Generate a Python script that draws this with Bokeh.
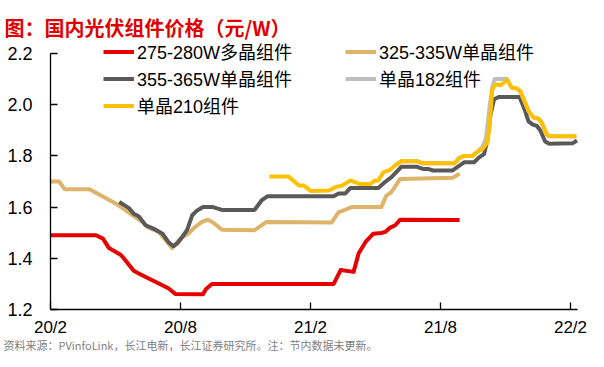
from bokeh.plotting import figure
from bokeh.models import Range1d, FixedTicker, Legend, LegendItem, Label, NumeralTickFormatter
from bokeh.embed import file_html
from bokeh.resources import INLINE

# x values are months since 2020-02
tick_months = [0, 6, 12, 18, 24]
tick_labels = ["20/2", "20/8", "21/2", "21/8", "22/2"]
y_ticks = [1.2, 1.4, 1.6, 1.8, 2.0, 2.2]

poly_x = [0, 2.10, 2.42, 2.70, 3.25, 3.38, 3.84, 4.07, 5.44, 5.76, 7.04, 7.18, 7.45,
          13.07, 13.39, 13.99, 14.22, 14.54, 14.90, 15.27, 15.45, 15.68, 15.91, 16.14, 18.88]
poly_y = [1.49, 1.49, 1.477, 1.44, 1.413, 1.40, 1.351, 1.341, 1.283, 1.261, 1.26, 1.28, 1.30,
          1.30, 1.354, 1.347, 1.419, 1.464, 1.496, 1.499, 1.503, 1.52, 1.529, 1.551, 1.55]

mono325_x = [0, 0.40, 0.65, 1.80, 3.09, 3.93, 4.24, 4.47, 5.00, 5.38, 5.61, 5.99, 6.35, 6.67,
             6.99, 7.27, 7.50, 7.91, 9.42, 9.97, 12.98, 13.30, 13.53, 13.90, 15.27, 15.50,
             15.73, 16.14, 18.56, 18.88]
mono325_y = [1.70, 1.70, 1.67, 1.67, 1.61, 1.56, 1.542, 1.522, 1.503, 1.464, 1.44, 1.477,
             1.496, 1.522, 1.542, 1.551, 1.54, 1.512, 1.51, 1.542, 1.54, 1.58, 1.587, 1.60,
             1.60, 1.645, 1.658, 1.71, 1.715, 1.73]

mono355_x = [3.17, 3.61, 3.84, 4.07, 4.39, 4.75, 5.17, 5.44, 5.67, 5.85, 6.08, 6.31, 6.54,
             6.77, 7.04, 7.50, 7.91, 9.42, 9.74, 10.01, 13.07, 13.30, 13.61, 13.84, 15.13,
             15.44, 15.74, 16.20, 16.88, 17.19, 17.42, 17.65, 18.56, 18.87, 19.09, 19.55,
             19.78, 20.01, 20.16, 20.31, 20.47, 20.69, 21.65, 21.91, 22.06, 22.26, 22.45,
             22.60, 22.83, 23.02, 24.09, 24.30]
mono355_y = [1.62, 1.597, 1.574, 1.564, 1.529, 1.516, 1.496, 1.464, 1.447, 1.458, 1.483,
             1.512, 1.568, 1.587, 1.60, 1.60, 1.589, 1.589, 1.626, 1.642, 1.642, 1.653,
             1.653, 1.675, 1.675, 1.698, 1.717, 1.758, 1.758, 1.749, 1.749, 1.743, 1.743,
             1.762, 1.775, 1.775, 1.794, 1.807, 1.859, 1.962, 2.021, 2.03, 2.03, 1.975,
             1.935, 1.922, 1.917, 1.90, 1.856, 1.847, 1.849, 1.86]

mono182_x = [15.89, 16.20, 16.96, 17.19, 18.64, 18.87, 19.09, 19.47, 19.70, 19.93, 20.10,
             20.25, 20.39, 20.50, 21.07, 21.18, 21.30, 21.53, 21.68, 21.84, 22.06, 22.29,
             22.52, 22.67, 22.90, 23.01, 24.27]
mono182_y = [1.762, 1.779, 1.779, 1.771, 1.771, 1.792, 1.80, 1.80, 1.816, 1.835, 1.87,
             1.98, 2.07, 2.10, 2.10, 2.082, 2.066, 2.063, 2.053, 2.021, 1.976, 1.95,
             1.946, 1.93, 1.885, 1.877, 1.877]

mono210_x = [10.10, 10.97, 11.47, 11.70, 12.01, 12.85, 13.15, 13.45, 13.84, 14.07, 14.30,
             14.75, 14.98, 15.13, 15.36, 15.67, 15.89, 16.20, 16.96, 17.19, 18.64, 18.87,
             19.09, 19.47, 19.70, 19.93, 20.16, 20.27, 20.39, 20.54, 20.77, 20.92, 21.07,
             21.18, 21.30, 21.53, 21.68, 21.84, 22.06, 22.29, 22.52, 22.67, 22.90, 23.01, 24.27]
mono210_y = [1.72, 1.72, 1.684, 1.684, 1.663, 1.665, 1.678, 1.684, 1.704, 1.697, 1.69,
             1.69, 1.704, 1.704, 1.736, 1.745, 1.762, 1.779, 1.779, 1.771, 1.771, 1.792,
             1.80, 1.80, 1.816, 1.826, 1.852, 1.924, 2.06, 2.079, 2.076, 2.085, 2.098,
             2.082, 2.066, 2.063, 2.053, 2.021, 1.976, 1.95, 1.946, 1.93, 1.885, 1.877, 1.877]

names = ["275-280W多晶组件", "325-335W单晶组件", "355-365W单晶组件", "单晶182组件", "单晶210组件"]
colors = ["#E60000", "#DEB36A", "#595959", "#BFBFBF", "#FFC000"]

FONT = "Liberation Sans, Noto Sans CJK SC"

# layout: the frame fills the whole figure; axes are drawn at fixed locations
W, H = 588, 351
PX0, PXM = 50.0, 21.667   # pixel of month 0, pixels per month
PY0, PYV = 309.0, 256.0   # pixel of 1.2, pixels per unit


def m_at(px):
    return (px - PX0) / PXM


def v_at(py):
    return 1.2 + (PY0 - py) / PYV


p = figure(width=W, height=H, output_backend="svg", toolbar_location=None,
           x_range=Range1d(m_at(0), m_at(W)), y_range=Range1d(v_at(H), v_at(0)),
           min_border=0)
p.min_border_left = p.min_border_right = p.min_border_top = p.min_border_bottom = 0
p.outline_line_color = None
p.xgrid.visible = False
p.ygrid.visible = False
p.background_fill_color = "white"
p.border_fill_color = "white"

r_tan = p.line(mono325_x, mono325_y, line_color=colors[1], line_width=4, line_join="round")
r_red = p.line(poly_x, poly_y, line_color=colors[0], line_width=4, line_join="round")
r_dark = p.line(mono355_x, mono355_y, line_color=colors[2], line_width=4, line_join="round")
r_light = p.line(mono182_x, mono182_y, line_color=colors[3], line_width=4, line_join="round")
r_yel = p.line(mono210_x, mono210_y, line_color=colors[4], line_width=4, line_join="round")

for ax in (p.xaxis[0], p.yaxis[0]):
    ax.axis_line_color = "black"
    ax.axis_line_width = 1.3
    ax.major_tick_line_color = "black"
    ax.major_tick_line_width = 1.3
    ax.major_tick_in = 7
    ax.major_tick_out = 0
    ax.minor_tick_line_color = None
    ax.major_label_text_font = "Liberation Sans"
    ax.major_label_text_font_size = "18px"
    ax.major_label_text_color = "black"

p.xaxis[0].fixed_location = 1.2
p.xaxis[0].bounds = (0, 24.32)
p.xaxis[0].ticker = FixedTicker(ticks=tick_months)
p.xaxis[0].major_label_overrides = {m: t for m, t in zip(tick_months, tick_labels)}
p.xaxis[0].major_label_standoff = 8
p.xaxis[0].major_label_text_font_size = "17px"
p.yaxis[0].fixed_location = 0
p.yaxis[0].bounds = (1.2, 2.2)
p.yaxis[0].ticker = FixedTicker(ticks=y_ticks)
p.yaxis[0].formatter = NumeralTickFormatter(format="0.0")
p.yaxis[0].major_label_standoff = 18


def make_legend(items, loc):
    return Legend(items=items, location=loc, orientation="vertical",
                  label_text_font=FONT, label_text_font_size="18px", label_text_color="black",
                  glyph_width=31, glyph_height=27, label_height=27, spacing=0,
                  label_standoff=3, padding=0, margin=0,
                  border_line_alpha=0, background_fill_alpha=0)


row_top = 51 - 13.5
leg1 = make_legend([LegendItem(label=names[0], renderers=[r_red]),
                    LegendItem(label=names[2], renderers=[r_dark]),
                    LegendItem(label=names[4], renderers=[r_yel])],
                   (103, H - (row_top + 3 * 27)))
leg2 = make_legend([LegendItem(label=names[1], renderers=[r_tan]),
                    LegendItem(label=names[3], renderers=[r_light])],
                   (345, H - (row_top + 2 * 27)))
p.add_layout(leg1, "center")
p.add_layout(leg2, "center")

title = Label(x=m_at(4), y=v_at(27), text="图：国内光伏组件价格（元/W）",
              text_font="Noto Sans CJK SC", text_font_style="bold", text_font_size="20px",
              text_color="#E00000", text_baseline="alphabetic", text_align="left")
footer = Label(x=m_at(3), y=v_at(336), text="资料来源：PVinfoLink，长江电新，长江证券研究所。注：节内数据未更新。",
               text_font="Noto Sans CJK SC", text_font_size="11px", text_color="#808080",
               text_baseline="top", text_align="left")
p.add_layout(title)
p.add_layout(footer)

open("out.html", "w").write(file_html(p, INLINE))
